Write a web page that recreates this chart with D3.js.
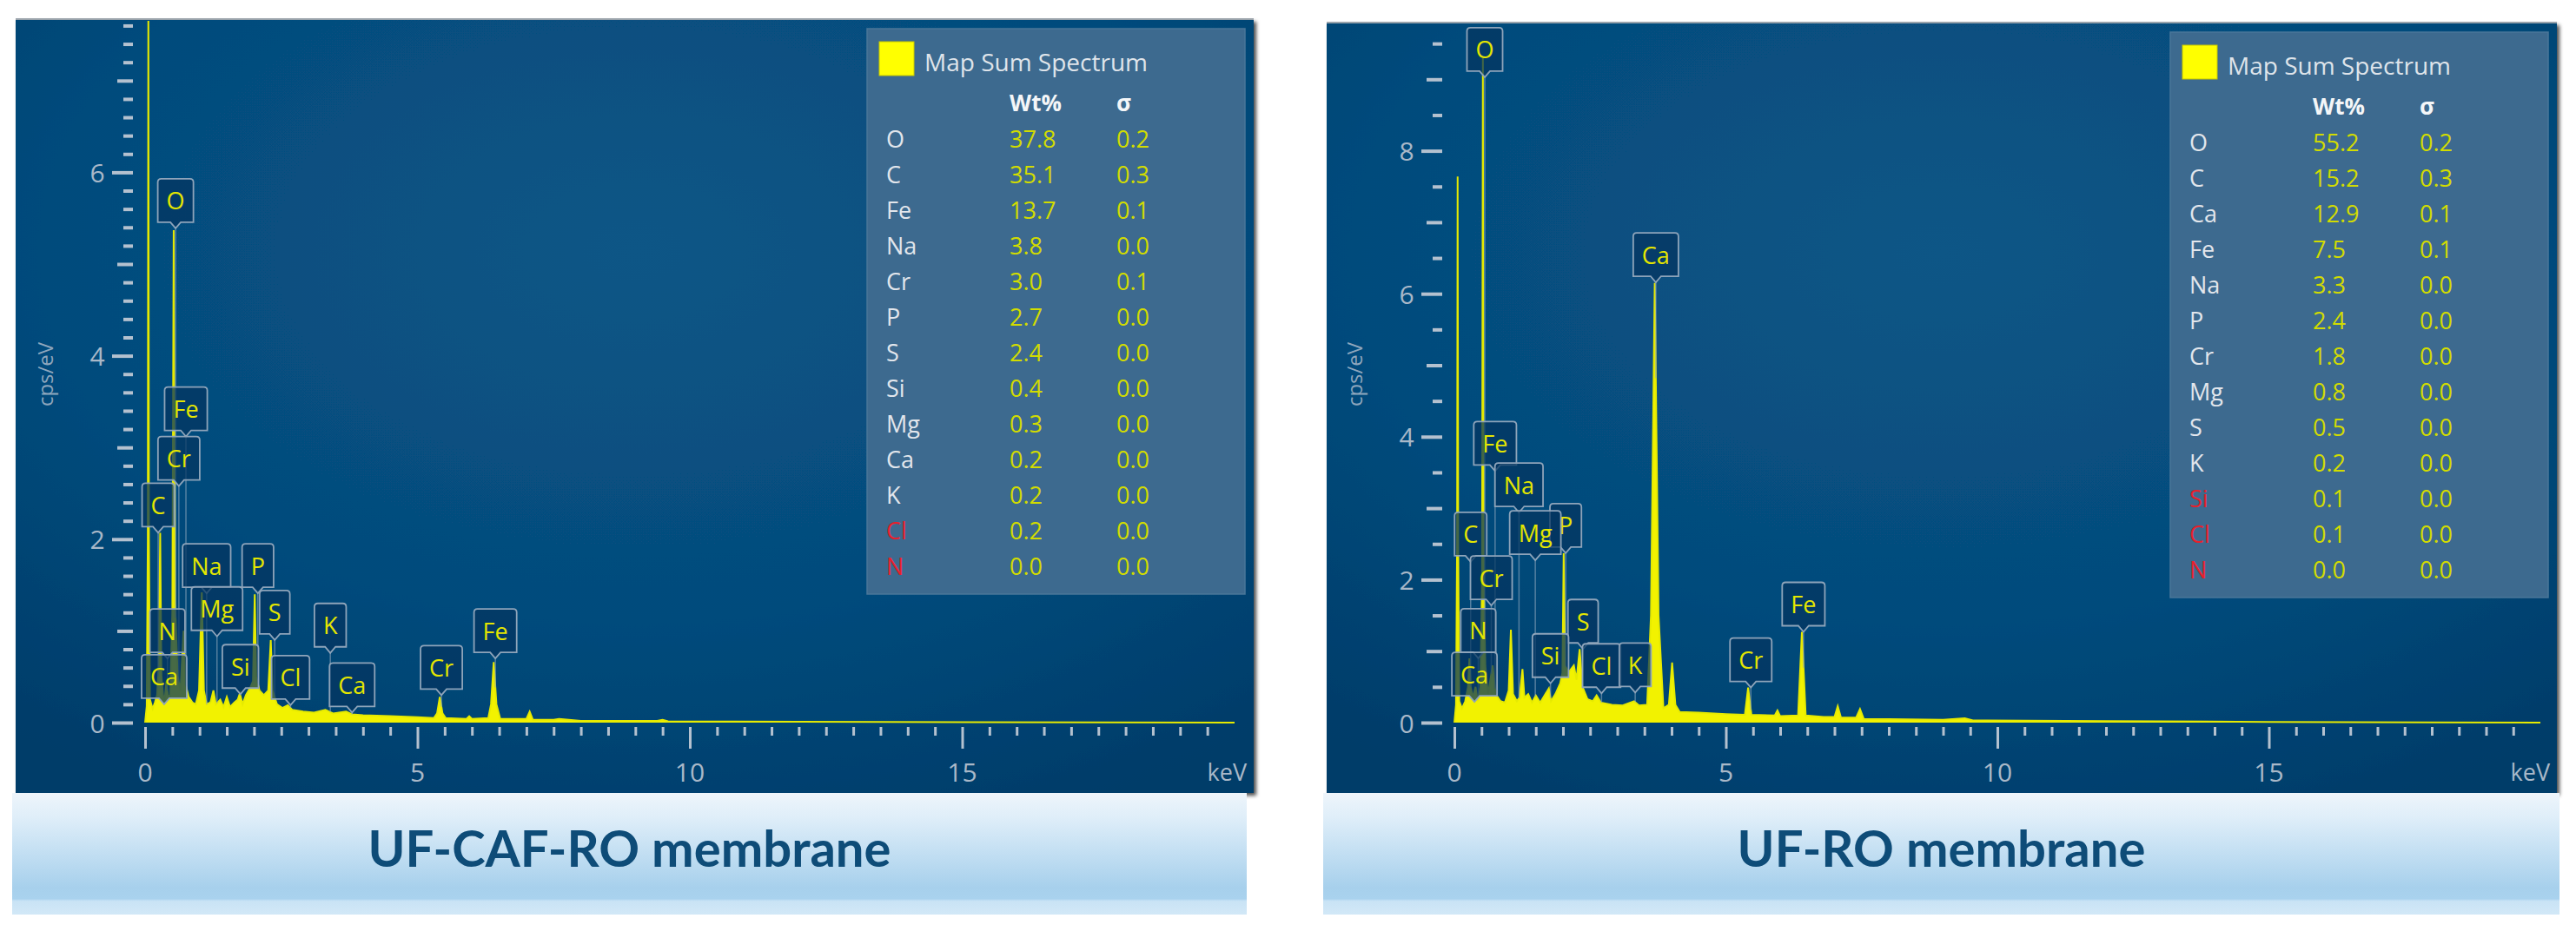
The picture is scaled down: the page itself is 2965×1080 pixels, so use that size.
<!DOCTYPE html>
<html>
<head>
<meta charset="utf-8">
<script src="https://cdn.jsdelivr.net/npm/d3@7"></script>
<style>
body { margin: 0; background: #fff; }
svg { display: block; font-family: "Open Sans", sans-serif; }
</style>
</head>
<body>
<script>
// ---- data (keV, cps/eV) ----
var specA = [[0,0],[0.03,0.18],[0.05,2.0],[0.06,7.9],[0.07,2.0],[0.09,0.25],[0.14,0.15],[0.18,0.22],[0.22,0.3],
  [0.25,0.6],[0.277,2.07],[0.30,0.5],[0.33,0.3],[0.36,0.25],[0.39,0.45],[0.42,0.3],[0.46,0.28],[0.50,1.2],
  [0.525,5.37],[0.55,1.3],[0.575,0.9],[0.60,0.5],[0.65,0.35],[0.705,1.0],[0.75,0.4],[0.80,0.28],[0.87,0.22],
  [0.93,0.2],[0.99,0.35],[1.041,1.42],[1.08,0.35],[1.13,0.2],[1.2,0.22],[1.254,0.35],[1.3,0.2],[1.38,0.25],
  [1.44,0.17],[1.5,0.28],[1.56,0.17],[1.64,0.22],[1.70,0.25],[1.74,0.32],[1.79,0.2],[1.85,0.3],[1.93,0.38],
  [1.98,0.45],[2.013,1.4],[2.04,0.5],[2.10,0.35],[2.18,0.3],[2.26,0.35],[2.307,0.9],[2.34,0.35],[2.42,0.2],
  [2.52,0.16],[2.62,0.19],[2.7,0.14],[2.9,0.12],[3.1,0.11],[3.31,0.14],[3.45,0.1],[3.69,0.12],[3.8,0.09],
  [4.0,0.08],[4.5,0.07],[5.0,0.06],[5.3,0.05],[5.36,0.1],[5.41,0.28],[5.46,0.1],[5.52,0.05],[5.9,0.04],
  [5.95,0.07],[6.0,0.04],[6.3,0.05],[6.35,0.2],[6.40,0.66],[6.45,0.2],[6.52,0.04],[7.0,0.04],[7.06,0.12],
  [7.12,0.03],[7.5,0.03],[7.6,0.04],[8.0,0.02],[9.4,0.02],[9.5,0.03],[9.6,0.015],[12,0.01],[15,0.005],[20,0]];

var specB = [[0,0],[0.03,0.25],[0.05,2.5],[0.06,7.64],[0.07,2.5],[0.09,0.3],[0.14,0.2],[0.2,0.3],[0.25,0.5],
  [0.277,0.9],[0.30,0.5],[0.341,0.35],[0.39,0.5],[0.43,0.3],[0.48,0.5],[0.51,2.0],[0.525,9.3],[0.54,2.0],
  [0.57,0.8],[0.62,0.4],[0.705,0.8],[0.76,0.4],[0.85,0.3],[0.93,0.28],[1.0,0.45],[1.041,1.3],[1.08,0.4],
  [1.15,0.3],[1.2,0.35],[1.254,0.75],[1.29,0.35],[1.36,0.4],[1.43,0.28],[1.5,0.38],[1.58,0.28],[1.66,0.38],
  [1.74,0.48],[1.78,0.3],[1.86,0.4],[1.95,0.55],[1.99,0.7],[2.013,2.37],[2.04,0.8],[2.1,0.7],[2.2,0.8],
  [2.25,0.6],[2.307,1.03],[2.36,0.5],[2.45,0.33],[2.55,0.3],[2.62,0.38],[2.7,0.28],[2.9,0.25],[3.1,0.24],
  [3.31,0.3],[3.4,0.24],[3.55,0.25],[3.62,1.5],[3.69,6.15],[3.76,1.5],[3.85,0.2],[3.95,0.25],[4.01,0.84],
  [4.07,0.25],[4.15,0.15],[4.5,0.14],[5.0,0.12],[5.35,0.11],[5.41,0.49],[5.47,0.11],[5.9,0.1],[5.95,0.17],
  [6.0,0.09],[6.33,0.1],[6.40,1.27],[6.47,0.1],[6.8,0.08],[7.0,0.08],[7.06,0.23],[7.12,0.07],[7.4,0.07],
  [7.47,0.19],[7.54,0.05],[8.0,0.05],[9.0,0.04],[9.4,0.06],[9.55,0.03],[12,0.02],[15,0.01],[20,0]];

// element markers: [symbol, keV, cps/eV at the pointer]
var labelsA = [["O",0.56,5.39],["Fe",0.75,3.12],["Cr",0.62,2.58],["C",0.24,2.07],["Na",1.13,1.41],
  ["P",2.07,1.41],["Mg",1.32,0.94],["S",2.38,0.9],["N",0.41,0.7],["K",3.4,0.76],["Si",1.75,0.31],
  ["Cl",2.67,0.19],["Ca",3.8,0.11],["Ca",0.35,0.2],["Cr",5.44,0.3],["Fe",6.43,0.7]];
var labelsB = [["O",0.56,9.03],["Ca",3.71,6.16],["Fe",0.75,3.52],["Na",1.19,2.94],["P",2.05,2.37],
  ["Mg",1.49,2.27],["C",0.30,2.25],["Cr",0.68,1.64],["S",2.37,1.03],["N",0.44,0.9],["Si",1.77,0.55],
  ["Cl",2.71,0.41],["K",3.33,0.42],["Ca",0.37,0.29],["Cr",5.46,0.49],["Fe",6.43,1.27]];

// quantification tables
var elemsA = ["O","C","Fe","Na","Cr","P","S","Si","Mg","Ca","K","Cl","N"];
var wtA    = ["37.8","35.1","13.7","3.8","3.0","2.7","2.4","0.4","0.3","0.2","0.2","0.2","0.0"];
var sigA   = ["0.2","0.3","0.1","0.0","0.1","0.0","0.0","0.0","0.0","0.0","0.0","0.0","0.0"];
var redA   = ["Cl","N"];
var elemsB = ["O","C","Ca","Fe","Na","P","Cr","Mg","S","K","Si","Cl","N"];
var wtB    = ["55.2","15.2","12.9","7.5","3.3","2.4","1.8","0.8","0.5","0.2","0.1","0.1","0.0"];
var sigB   = ["0.2","0.3","0.1","0.1","0.0","0.0","0.0","0.0","0.0","0.0","0.0","0.0","0.0"];
var redB   = ["Si","Cl","N"];

var titles = ["UF-CAF-RO membrane", "UF-RO membrane"];
var xTickLabels = [0, 5, 10, 15];
var yTickLabelsA = [0, 2, 4, 6];
var yTickLabelsB = [0, 2, 4, 6, 8];

// ---- layout ----
var W = 2965, H = 1080;
var svg = d3.select("body").append("svg").attr("width", W).attr("height", H);
var defs = svg.append("defs");

var bg = defs.append("radialGradient").attr("id", "navy")
  .attr("cx", "50%").attr("cy", "30%").attr("r", "80%");
bg.append("stop").attr("offset", "0").attr("stop-color", "#0a5686");
bg.append("stop").attr("offset", "0.6").attr("stop-color", "#054b7c");
bg.append("stop").attr("offset", "1").attr("stop-color", "#013c69");

var tg = defs.append("linearGradient").attr("id", "titleGrad")
  .attr("x1", 0).attr("y1", 0).attr("x2", 0).attr("y2", 1);
[["0", "#eef5fb"], ["0.2", "#dfeef9"], ["0.78", "#a7d0ec"], ["0.87", "#a9d2ee"],
 ["0.89", "#c9e3f5"], ["1", "#d2e8f7"]].forEach(function(s) {
  tg.append("stop").attr("offset", s[0]).attr("stop-color", s[1]);
});

var shadow = defs.append("filter").attr("id", "shadow")
  .attr("x", "-2%").attr("y", "-2%").attr("width", "104%").attr("height", "104%");
shadow.append("feDropShadow").attr("dx", 3).attr("dy", 3).attr("stdDeviation", 2)
  .attr("flood-color", "#000").attr("flood-opacity", 0.7);

var panels = [
  { spec: specA, labels: labelsA, elems: elemsA, wt: wtA, sig: sigA, red: redA, title: titles[0],
    box: [18, 22, 1425, 891], titleBox: [14, 913, 1421, 140],
    x0: 167, x1: 1421, yZero: 832, yMax: 7.6, pxPerUnit: 105.6, step: 0.2, yLabels: yTickLabelsA },
  { spec: specB, labels: labelsB, elems: elemsB, wt: wtB, sig: sigB, red: redB, title: titles[1],
    box: [1527, 26, 1416, 887], titleBox: [1523, 913, 1423, 140],
    x0: 1674, x1: 2924, yZero: 832, yMax: 9.5, pxPerUnit: 82.3, step: 0.5, yLabels: yTickLabelsB }
];

function specAt(spec, e) {
  var i = d3.bisector(function(d) { return d[0]; }).right(spec, e) - 1;
  if (i < 0) return spec[0][1];
  if (i >= spec.length - 1) return spec[spec.length - 1][1];
  var a = spec[i], b = spec[i + 1];
  return a[1] + (b[1] - a[1]) * (e - a[0]) / (b[0] - a[0]);
}

panels.forEach(function(p, pi) {
  var g = svg.append("g");
  var bx = p.box[0], by = p.box[1], bw = p.box[2], bh = p.box[3];

  // dark plot background
  g.append("rect").attr("x", bx).attr("y", by).attr("width", bw).attr("height", bh)
    .attr("fill", "url(#navy)").attr("filter", "url(#shadow)");
  g.append("line").attr("x1", bx).attr("x2", bx + bw).attr("y1", by).attr("y2", by)
    .attr("stroke", "#9aa3ab").attr("stroke-width", 2);

  var x = d3.scaleLinear().domain([0, 20]).range([p.x0, p.x1]);
  var y = d3.scaleLinear().domain([0, p.yMax]).range([p.yZero, p.yZero - p.yMax * p.pxPerUnit]);

  // legend / quantification box
  var lw = 435, lh = 651, lx = bx + bw - 10 - lw, ly = by + 11;
  g.append("rect").attr("x", lx).attr("y", ly).attr("width", lw).attr("height", lh)
    .attr("fill", "#3d6a8f").attr("stroke", "#4a7799").attr("stroke-width", 1.5);
  g.append("rect").attr("x", lx + 14).attr("y", ly + 15).attr("width", 40).attr("height", 39)
    .attr("fill", "#ffff00").attr("stroke", "#c8c800");
  g.append("text").attr("x", lx + 66).attr("y", ly + 38).attr("dominant-baseline", "central")
    .attr("font-size", 28).attr("fill", "#dfe4ea").text("Map Sum Spectrum");
  g.append("text").attr("x", lx + 164).attr("y", ly + 85).attr("dominant-baseline", "central")
    .attr("font-size", 26).attr("font-weight", "bold").attr("fill", "#f4f6f8").text("Wt%");
  g.append("text").attr("x", lx + 287).attr("y", ly + 85).attr("dominant-baseline", "central")
    .attr("font-size", 26).attr("font-weight", "bold").attr("fill", "#f4f6f8").text("σ");
  p.elems.forEach(function(el, i) {
    var ry = ly + 126 + i * 41;
    g.append("text").attr("x", lx + 22).attr("y", ry).attr("dominant-baseline", "central")
      .attr("font-size", 27).attr("fill", p.red.indexOf(el) >= 0 ? "#e8202c" : "#e2e6ec").text(el);
    g.append("text").attr("x", lx + 164).attr("y", ry).attr("dominant-baseline", "central")
      .attr("font-size", 27).attr("fill", "#d2dc00").text(p.wt[i]);
    g.append("text").attr("x", lx + 287).attr("y", ry).attr("dominant-baseline", "central")
      .attr("font-size", 27).attr("fill", "#d2dc00").text(p.sig[i]);
  });

  // spectrum
  defs.append("clipPath").attr("id", "clip" + pi).append("rect")
    .attr("x", p.x0 - 3).attr("y", by + 2).attr("width", bw).attr("height", p.yZero - by + 2);
  var plot = g.append("g").attr("clip-path", "url(#clip" + pi + ")");
  plot.append("path").datum(p.spec)
    .attr("d", d3.area().x(function(d) { return x(d[0]); }).y0(y(0)).y1(function(d) { return y(d[1]); }))
    .attr("fill", "#f2f200");
  plot.append("path").datum(p.spec)
    .attr("d", d3.line().x(function(d) { return x(d[0]); }).y(function(d) { return y(d[1]); }))
    .attr("fill", "none").attr("stroke", "#e6ea00").attr("stroke-width", 2);

  // element markers with leader lines
  var mk = g.append("g");
  p.labels.forEach(function(l) {
    var tx = x(l[1]), ty = y(l[2]);
    var base = Math.max(specAt(p.spec, l[1]), 0.05);
    if (y(base) > ty + 2) {
      mk.append("line").attr("x1", tx).attr("x2", tx).attr("y1", ty).attr("y2", y(base))
        .attr("stroke", "#8ea6bd").attr("stroke-opacity", 0.6).attr("stroke-width", 1.5);
    }
  });
  p.labels.forEach(function(l) {
    var tx = x(l[1]), ty = y(l[2]);
    var t = mk.append("text").attr("x", tx).attr("y", ty - 7 - 25)
      .attr("text-anchor", "middle").attr("dominant-baseline", "central")
      .attr("font-size", 27).attr("fill", "#e4e600").text(l[0]);
    var tw = t.node().getComputedTextLength() + 20;
    var top = ty - 7 - 50, left = tx - tw / 2, right = tx + tw / 2, bot = ty - 7;
    var path = "M" + (left + 4) + "," + top + "H" + (right - 4) + "Q" + right + "," + top + " " + right + "," + (top + 4) +
      "V" + bot + "H" + (tx + 6) + "L" + tx + "," + ty + "L" + (tx - 6) + "," + bot + "H" + left +
      "V" + (top + 4) + "Q" + left + "," + top + " " + (left + 4) + "," + top + "Z";
    mk.insert("path", function() { return t.node(); }).attr("d", path)
      .attr("fill", "#04345f").attr("fill-opacity", 0.72)
      .attr("stroke", "#8ea4ba").attr("stroke-width", 1.8);
  });

  // y axis ticks
  var yTicks = d3.range(0, Math.round(p.yMax / p.step) + 1).map(function(i) { return +(i * p.step).toFixed(2); });
  var yAxis = d3.axisLeft(y).tickValues(yTicks).tickSize(11).tickFormat("");
  var ya = g.append("g").attr("transform", "translate(" + (p.x0 - 14) + ",0)").call(yAxis);
  ya.select(".domain").remove();
  ya.selectAll(".tick line").attr("stroke", "#b4c1cf").attr("stroke-width", 4)
    .attr("x2", function(d) {
      if (p.yLabels.indexOf(d) >= 0) return -24;
      if (Math.abs(d - Math.round(d)) < 1e-6) return -18;
      return -11;
    });
  p.yLabels.forEach(function(v) {
    g.append("text").attr("x", p.x0 - 55).attr("y", y(v)).attr("text-anchor", "middle")
      .attr("dominant-baseline", "central").attr("font-size", 30).attr("fill", "#a9b8c8").text(v);
  });
  g.append("text").attr("transform", "translate(" + (p.x0 - 116) + "," + 431 + ") rotate(-90)")
    .attr("text-anchor", "middle").attr("dominant-baseline", "central")
    .attr("font-size", 24).attr("fill", "#8ea6bd").text("cps/eV");

  // x axis ticks
  var xTicks = d3.range(0, 40).map(function(i) { return i * 0.5; });
  var xAxis = d3.axisBottom(x).tickValues(xTicks).tickSize(10).tickFormat("");
  var xa = g.append("g").attr("transform", "translate(0," + (p.yZero + 5) + ")").call(xAxis);
  xa.select(".domain").remove();
  xa.selectAll(".tick line").attr("stroke", "#b4c1cf").attr("stroke-width", 3)
    .attr("y2", function(d) { return d % 5 === 0 ? 25 : 10; });
  xTickLabels.forEach(function(v) {
    g.append("text").attr("x", x(v)).attr("y", p.yZero + 56).attr("text-anchor", "middle")
      .attr("dominant-baseline", "central").attr("font-size", 30).attr("fill", "#a9b8c8").text(v);
  });
  g.append("text").attr("x", bx + bw - 8).attr("y", p.yZero + 56).attr("text-anchor", "end")
    .attr("dominant-baseline", "central").attr("font-size", 27).attr("fill", "#a9b8c8").text("keV");

  // caption strip
  var t = p.titleBox;
  g.append("rect").attr("x", t[0]).attr("y", t[1]).attr("width", t[2]).attr("height", t[3])
    .attr("fill", "url(#titleGrad)");
  g.append("text").attr("x", t[0] + t[2] / 2).attr("y", 998).attr("text-anchor", "middle")
    .attr("font-family", "Lato, 'Open Sans', sans-serif").attr("font-weight", "bold")
    .attr("font-size", 58).attr("fill", "#0e4c78").text(p.title);
});
</script>
</body>
</html>
